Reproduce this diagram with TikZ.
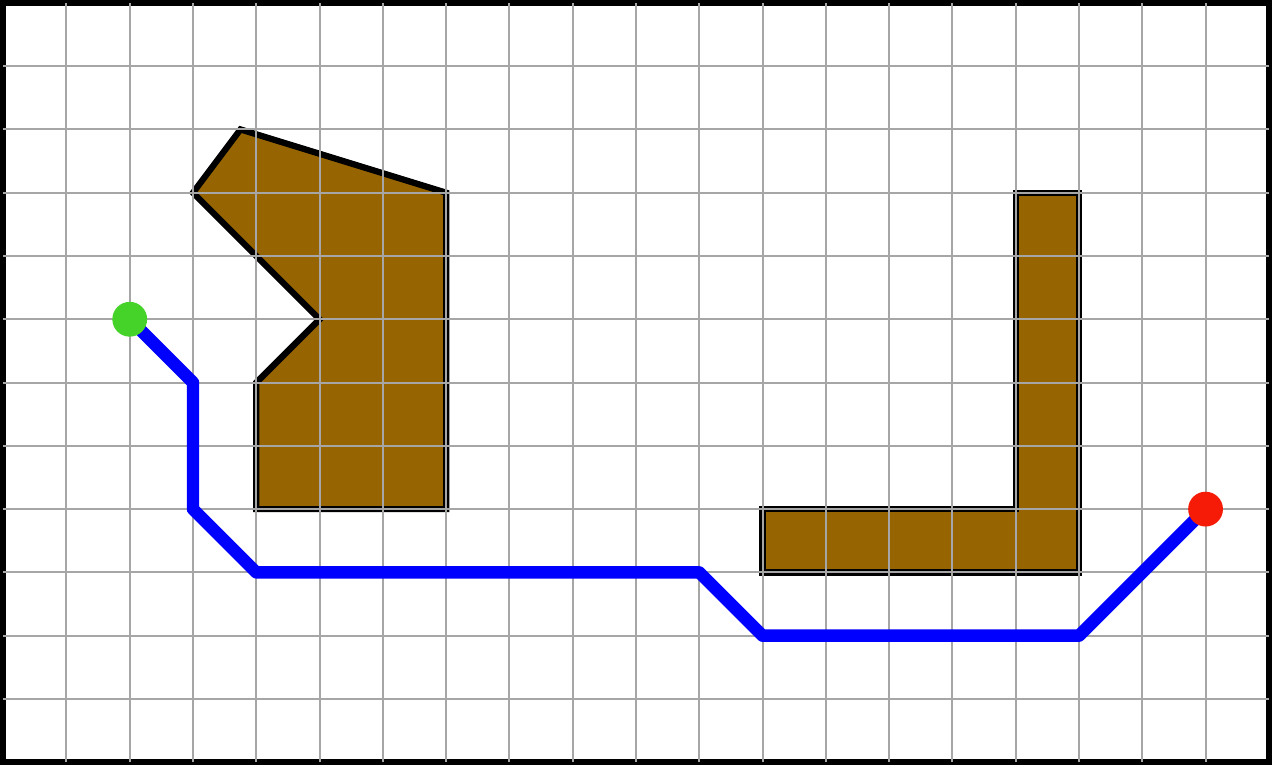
\documentclass[tikz,border=0pt]{standalone}
\usepackage{tikz}
\definecolor{gridgray}{HTML}{A6A6A6}
\definecolor{obstacle}{HTML}{966400}
\definecolor{startgreen}{HTML}{45D32A}
\definecolor{goalred}{HTML}{F51B07}
\definecolor{routeblue}{HTML}{0000FF}
\tikzset{
  frame/.style={draw=black,line width=2.7pt},
  gridline/.style={draw=gridgray,line width=0.9pt},
  block/.style={fill=obstacle,draw=black,line width=2.8pt},
  route/.style={draw=routeblue,line width=5.6pt,line join=round},
  dot/.style={circle,inner sep=0pt,minimum size=5.5mm},
  startdot/.style={dot,fill=startgreen},
  goaldot/.style={dot,fill=goalred}
}

\begin{document}
\begin{tikzpicture}[x=1cm,y=1cm]
  \useasboundingbox (-0.05,-0.04) rectangle (20.05,12.045);
  \draw[frame] (0,0) rectangle (20,12);

  % obstacles
  \draw[block] (3,9) -- (3.75,10) -- (7,9) -- (7,4) -- (4,4) -- (4,6) -- (5,7) -- (4,8) -- cycle;
  \draw[block] (12,4) -- (16,4) -- (16,9) -- (17,9) -- (17,3) -- (12,3) -- cycle;

  \foreach \x in {1,...,19} \draw[gridline] (\x,0) -- (\x,12);
  \foreach \y in {1,...,11} \draw[gridline] (0,\y) -- (20,\y);

  \coordinate (start) at (2,7);
  \coordinate (goal) at (19,4);
  \draw[route] (start) -- (3,6) -- (3,4) -- (4,3) -- (11,3) -- (12,2) -- (17,2) -- (goal);

  \node[startdot] (startpt) at (start) {};
  \node[goaldot] (goalpt) at (goal) {};
\end{tikzpicture}
\end{document}
